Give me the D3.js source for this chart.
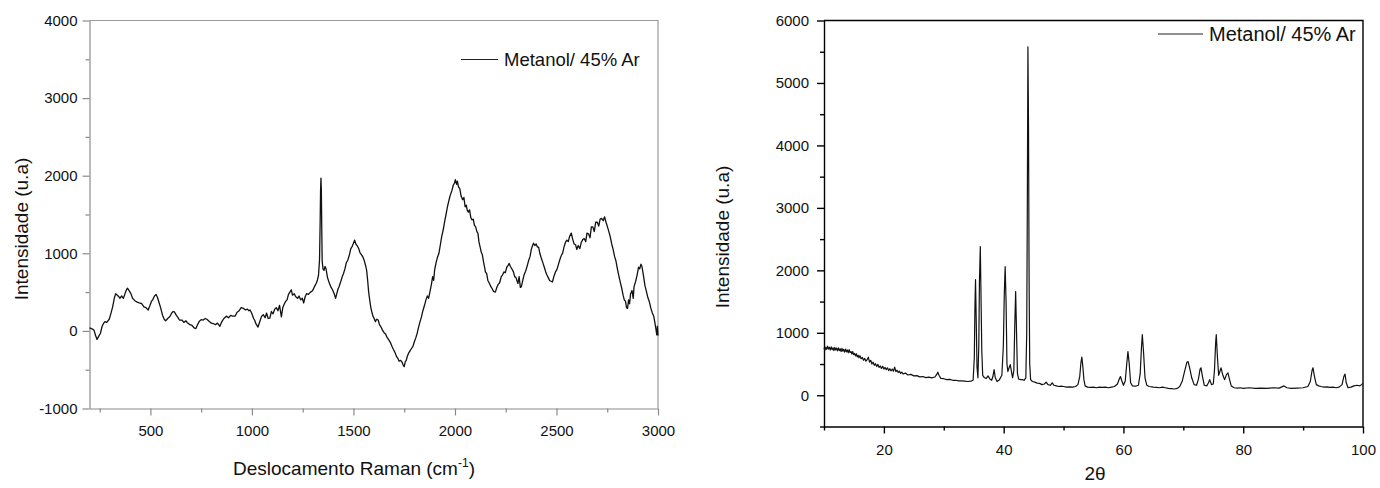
<!DOCTYPE html>
<html>
<head>
<meta charset="utf-8">
<script src="https://cdn.jsdelivr.net/npm/d3@7"></script>
<style>
  body { margin: 0; background: #fff; }
  text { font-family: "Liberation Sans", Arial, sans-serif; fill: #111; }
</style>
</head>
<body>
<svg id="chart" width="1380" height="488"></svg>
<script>
/* global d3 */

// Raman spectrum: [shift cm-1, intensity]
const ramanPoints = [
  [200, 40], [210, 30], [222, 10], [230, -60], [237, -110], [245, -70], [254, -30], [262, 60],
  [270, 100], [276, 120], [285, 110], [297, 150], [305, 220], [314, 310], [322, 420], [329, 480],
  [337, 460], [345, 440], [350, 420], [358, 450], [367, 420], [375, 480], [382, 530], [387, 550],
  [395, 520], [404, 480], [412, 420], [420, 400], [425, 385], [435, 370], [445, 360], [457, 350],
  [468, 310], [478, 300], [489, 270], [498, 330], [505, 380], [511, 400], [520, 450], [528, 470],
  [535, 430], [542, 370], [549, 310], [560, 200], [568, 150], [575, 130], [585, 160], [596, 185],
  [605, 230], [612, 250], [618, 245], [628, 200], [636, 170], [643, 140], [655, 140], [665, 110],
  [675, 130], [682, 105], [695, 80], [705, 70], [715, 40], [724, 30], [732, 80], [740, 120],
  [750, 145], [760, 140], [770, 160], [778, 150], [790, 120], [800, 100], [810, 95], [820, 80],
  [830, 100], [842, 60], [852, 120], [862, 160], [874, 190], [885, 170], [895, 200], [905, 190],
  [917, 190], [927, 240], [937, 260], [947, 300], [959, 290], [968, 270], [978, 280], [985, 260],
  [991, 270], [1000, 220], [1008, 160], [1013, 140], [1020, 90], [1030, 50], [1040, 130], [1048, 190],
  [1056, 210], [1065, 170], [1072, 230], [1080, 160], [1088, 165], [1096, 250], [1104, 220], [1112, 280],
  [1120, 300], [1128, 260], [1136, 330], [1145, 180], [1152, 300], [1160, 350], [1166, 380], [1173, 400],
  [1180, 470], [1187, 500], [1194, 530], [1200, 460], [1208, 480], [1216, 440], [1225, 420], [1232, 450],
  [1240, 400], [1248, 420], [1255, 360], [1262, 440], [1269, 480], [1278, 470], [1288, 500], [1295, 510],
  [1301, 530], [1310, 580], [1318, 620], [1323, 660], [1328, 720], [1333, 920], [1336, 1400], [1338, 1800],
  [1340, 1970], [1342, 1800], [1344, 1300], [1346, 900], [1350, 800], [1355, 780], [1360, 830], [1365, 800],
  [1372, 690], [1378, 640], [1382, 610], [1390, 560], [1397, 530], [1405, 480], [1412, 420], [1418, 480],
  [1424, 540], [1429, 570], [1438, 640], [1445, 700], [1451, 740], [1458, 800], [1465, 880], [1472, 910],
  [1480, 980], [1487, 1060], [1494, 1090], [1500, 1130], [1506, 1170], [1512, 1120], [1518, 1100], [1526, 1060],
  [1532, 1010], [1540, 980], [1547, 950], [1554, 900], [1560, 840], [1565, 780], [1570, 650], [1575, 500],
  [1580, 400], [1585, 310], [1590, 250], [1596, 190], [1602, 160], [1608, 120], [1614, 150], [1622, 140],
  [1628, 80], [1636, 50], [1643, 10], [1650, -20], [1658, -40], [1665, -80], [1675, -120], [1682, -150],
  [1690, -200], [1697, -240], [1705, -280], [1712, -330], [1718, -350], [1725, -390], [1732, -380], [1739, -400],
  [1745, -440], [1750, -460], [1755, -400], [1760, -380], [1765, -330], [1771, -290], [1778, -260], [1785, -230],
  [1793, -200], [1800, -140], [1807, -90], [1814, -30], [1820, 40], [1828, 120], [1835, 180], [1842, 260],
  [1850, 330], [1857, 400], [1864, 450], [1870, 420], [1878, 520], [1884, 600], [1890, 700], [1895, 650],
  [1900, 790], [1907, 880], [1914, 950], [1921, 1000], [1928, 1110], [1935, 1220], [1942, 1300], [1950, 1420],
  [1956, 1500], [1963, 1600], [1970, 1680], [1977, 1750], [1985, 1810], [1992, 1880], [1997, 1900], [2002, 1950],
  [2008, 1890], [2012, 1930], [2017, 1860], [2024, 1830], [2030, 1740], [2038, 1690], [2044, 1720], [2050, 1600],
  [2056, 1620], [2060, 1560], [2066, 1530], [2072, 1560], [2078, 1460], [2084, 1430], [2090, 1440], [2096, 1360],
  [2102, 1340], [2108, 1280], [2113, 1260], [2118, 1150], [2124, 1080], [2130, 1010], [2135, 980], [2140, 900],
  [2146, 820], [2150, 760], [2156, 740], [2162, 650], [2168, 620], [2177, 570], [2184, 540], [2190, 510],
  [2199, 500], [2206, 560], [2213, 600], [2220, 620], [2228, 700], [2234, 720], [2241, 760], [2248, 750],
  [2255, 820], [2261, 840], [2267, 870], [2273, 830], [2280, 800], [2288, 760], [2294, 700], [2300, 690],
  [2305, 650], [2310, 610], [2316, 700], [2322, 560], [2327, 570], [2334, 650], [2340, 720], [2348, 770],
  [2355, 830], [2362, 900], [2370, 960], [2376, 1050], [2382, 1100], [2387, 1130], [2393, 1100], [2400, 1120],
  [2406, 1080], [2412, 1080], [2418, 1000], [2425, 940], [2434, 870], [2440, 820], [2447, 760], [2453, 720],
  [2459, 690], [2466, 650], [2473, 640], [2480, 630], [2487, 700], [2495, 760], [2502, 790], [2510, 860],
  [2518, 930], [2525, 980], [2530, 1000], [2537, 1080], [2544, 1140], [2551, 1170], [2558, 1150], [2565, 1220],
  [2573, 1260], [2580, 1180], [2587, 1120], [2594, 1110], [2600, 1050], [2607, 1100], [2615, 1060], [2622, 1140],
  [2630, 1180], [2637, 1190], [2644, 1150], [2650, 1260], [2658, 1250], [2665, 1200], [2672, 1340], [2679, 1340],
  [2686, 1280], [2693, 1400], [2701, 1400], [2708, 1350], [2715, 1440], [2722, 1450], [2730, 1420], [2737, 1470],
  [2744, 1400], [2750, 1350], [2758, 1280], [2765, 1210], [2772, 1120], [2779, 1050], [2786, 960], [2793, 900],
  [2800, 800], [2808, 700], [2815, 620], [2823, 530], [2828, 460], [2834, 400], [2840, 380], [2845, 300],
  [2850, 290], [2855, 400], [2860, 350], [2865, 480], [2872, 520], [2878, 420], [2882, 570], [2890, 640],
  [2897, 720], [2904, 820], [2910, 800], [2916, 860], [2921, 830], [2928, 720], [2936, 580], [2942, 520],
  [2950, 430], [2957, 380], [2964, 300], [2972, 230], [2979, 190], [2985, 100], [2990, 20], [2994, -50],
  [2997, 60], [3000, -60]
];

// XRD pattern: [2theta, intensity]
const xrdPoints = [
  [10.0, 760], [10.15, 720], [10.3, 770], [10.45, 735], [10.6, 785], [10.75, 740], [10.9, 770], [11.05, 725],
  [11.2, 775], [11.35, 730], [11.5, 760], [11.65, 715], [11.8, 765], [11.95, 725], [12.1, 755], [12.25, 710],
  [12.4, 760], [12.55, 715], [12.7, 745], [12.85, 700], [13.0, 750], [13.15, 705], [13.3, 735], [13.45, 690],
  [13.6, 740], [13.75, 695], [13.9, 725], [14.05, 680], [14.2, 730], [14.35, 685], [14.5, 700], [14.65, 660],
  [14.8, 700], [14.95, 650], [15.1, 670], [15.25, 630], [15.4, 665], [15.55, 615], [15.7, 640], [15.85, 600],
  [16.0, 635], [16.2, 585], [16.4, 605], [16.6, 560], [16.8, 590], [17.0, 545], [17.2, 570], [17.4, 610],
  [17.6, 530], [17.8, 560], [18.0, 500], [18.2, 530], [18.4, 480], [18.6, 505], [18.8, 460], [19.0, 495],
  [19.2, 445], [19.4, 470], [19.6, 430], [19.8, 465], [20.0, 420], [20.2, 445], [20.4, 410], [20.6, 440],
  [20.8, 395], [21.0, 425], [21.2, 390], [21.4, 420], [21.6, 385], [21.8, 450], [22.0, 380], [22.2, 400],
  [22.4, 365], [22.6, 385], [22.8, 350], [23.0, 370], [23.2, 340], [23.6, 355], [24.0, 325], [24.5, 335],
  [25.0, 310], [25.5, 315], [26.0, 295], [26.5, 300], [27.0, 283], [27.5, 290], [28.0, 278], [28.5, 292],
  [28.8, 330], [29.0, 370], [29.2, 320], [29.5, 270], [30.0, 265],
  [30.5, 250], [31.0, 255], [31.5, 240], [32.0, 240], [32.5, 230], [33.0, 230], [33.5, 225], [34.0, 220],
  [34.5, 225], [34.9, 240], [35.1, 600], [35.2, 1400], [35.3, 1850], [35.4, 1300], [35.55, 450], [35.7, 280],
  [35.85, 800], [35.95, 1800], [36.1, 2380], [36.2, 1700], [36.35, 700], [36.5, 320], [36.8, 280], [37.1, 270],
  [37.4, 310], [37.7, 260], [38.0, 240], [38.2, 300], [38.4, 410], [38.6, 280], [38.9, 220], [39.3, 250],
  [39.7, 320], [39.95, 800], [40.1, 1600], [40.25, 2060], [40.4, 1500], [40.55, 500], [40.7, 380], [40.9, 440],
  [41.1, 490], [41.3, 380], [41.5, 280], [41.7, 400], [41.85, 1100], [42.0, 1660], [42.15, 1000], [42.3, 350],
  [42.5, 260], [42.8, 250], [43.1, 250], [43.4, 240], [43.7, 280], [43.85, 1000], [43.95, 3000], [44.05, 5580],
  [44.15, 4300], [44.25, 1800], [44.35, 500], [44.5, 250], [44.8, 220], [45.2, 210], [45.6, 195], [46.0, 190],
  [46.4, 170], [46.8, 180], [47.1, 210], [47.4, 170], [47.8, 160], [48.1, 200], [48.4, 160], [48.8, 150],
  [49.2, 140], [49.6, 145], [50.0, 140], [50.5, 130], [51.0, 135], [51.5, 130], [52.0, 140], [52.4, 170],
  [52.7, 300], [52.9, 520], [53.05, 610], [53.2, 480], [53.4, 250], [53.6, 150], [54.0, 130], [54.5, 125],
  [55.0, 130], [55.5, 120], [56.0, 130], [56.5, 125], [57.0, 130], [57.5, 120], [58.0, 130], [58.5, 140],
  [59.0, 180], [59.3, 260], [59.5, 300], [59.7, 240], [60.0, 160], [60.3, 230], [60.55, 500], [60.75, 700],
  [60.95, 520], [61.2, 200], [61.5, 150], [62.0, 145], [62.5, 160], [62.8, 350], [63.0, 750], [63.15, 970],
  [63.35, 700], [63.6, 280], [63.9, 160], [64.3, 140], [65.0, 130], [65.5, 125], [66.0, 120], [66.5, 130],
  [67.0, 120], [67.5, 110], [68.0, 105], [68.5, 100], [69.0, 110], [69.4, 140], [69.8, 220], [70.2, 380],
  [70.6, 530], [70.8, 540], [71.1, 420], [71.4, 280], [71.8, 170], [72.2, 160], [72.5, 250], [72.8, 420],
  [72.95, 440], [73.2, 300], [73.5, 160], [73.9, 150], [74.2, 200], [74.4, 250], [74.7, 170], [75.0, 180],
  [75.2, 400], [75.4, 850], [75.5, 970], [75.7, 600], [75.9, 320], [76.1, 380], [76.3, 440], [76.6, 320],
  [76.9, 250], [77.2, 330], [77.45, 360], [77.7, 260], [78.0, 150], [78.5, 120], [79.0, 115], [79.5, 120],
  [80.0, 110], [81.0, 120], [82.0, 110], [83.0, 115], [84.0, 110], [85.0, 120], [86.0, 115], [86.8, 150],
  [87.3, 120], [88.0, 110], [89.0, 115], [90.0, 120], [90.8, 140], [91.2, 220], [91.5, 400], [91.65, 440],
  [91.9, 300], [92.2, 170], [92.6, 150], [93.0, 140], [93.5, 130], [94.0, 135], [94.5, 125], [95.0, 130],
  [95.5, 120], [96.0, 130], [96.5, 170], [96.8, 300], [97.0, 340], [97.2, 200], [97.5, 120], [98.0, 130],
  [98.5, 150], [99.0, 160], [99.5, 150], [100.0, 190]
];

const seriesLabel = 'Metanol/ 45% Ar';

const ramanMajorX = [500, 1000, 1500, 2000, 2500, 3000];
const ramanMinorX = [250, 750, 1250, 1750, 2250, 2750];
const ramanMajorY = [-1000, 0, 1000, 2000, 3000, 4000];
const ramanMinorY = [-500, 500, 1500, 2500, 3500];

const xrdMajorX = [20, 40, 60, 80, 100];
const xrdMinorX = [10, 30, 50, 70, 90];
const xrdMajorY = [0, 1000, 2000, 3000, 4000, 5000, 6000];
const xrdMinorY = [-500, 500, 1500, 2500, 3500, 4500, 5500];

const svg = d3.select('#chart');

// plain hyphen for negatives, like the original plot
const tickText = (d) => String(d);

function drawPanel(cfg) {
  const xScale = d3.scaleLinear().domain(cfg.xDomain).range(cfg.xRange);
  const yScale = d3.scaleLinear().domain(cfg.yDomain).range(cfg.yRange);
  const [x0, x1] = cfg.xRange;
  const [y0, y1] = cfg.yRange;

  const g = svg.append('g').attr('class', cfg.name);

  // frame (top + right)
  g.append('path')
    .attr('d', `M${x0},${y1}H${x1}V${y0}`)
    .attr('fill', 'none')
    .attr('stroke', cfg.frameColor)
    .attr('stroke-width', cfg.axisWidth);

  const xAxis = g.append('g')
    .attr('transform', `translate(0,${y0})`)
    .call(d3.axisBottom(xScale).tickValues(cfg.majorX).tickSize(7).tickSizeOuter(0)
      .tickPadding(cfg.xPad).tickFormat(tickText));

  g.append('g')
    .attr('transform', `translate(0,${y0})`)
    .call(d3.axisBottom(xScale).tickValues(cfg.minorX).tickSize(4).tickSizeOuter(0).tickFormat(''))
    .select('.domain').remove();

  const yAxis = g.append('g')
    .attr('transform', `translate(${x0},0)`)
    .call(d3.axisLeft(yScale).tickValues(cfg.majorY).tickSize(7).tickSizeOuter(0)
      .tickPadding(cfg.yPad).tickFormat(tickText));

  g.append('g')
    .attr('transform', `translate(${x0},0)`)
    .call(d3.axisLeft(yScale).tickValues(cfg.minorY).tickSize(4).tickSizeOuter(0).tickFormat(''))
    .select('.domain').remove();

  g.selectAll('.domain, .tick line')
    .attr('stroke', cfg.axisColor)
    .attr('stroke-width', cfg.axisWidth);

  [xAxis, yAxis].forEach((ax) => {
    ax.selectAll('.tick text')
      .style('font-size', '15px')
      .style('font-family', '"Liberation Sans", Arial, sans-serif')
      .attr('fill', '#111');
  });

  const line = d3.line()
    .x((d) => xScale(d[0]))
    .y((d) => yScale(d[1]));

  g.append('path')
    .datum(cfg.points)
    .attr('d', line)
    .attr('fill', 'none')
    .attr('stroke', '#111')
    .attr('stroke-width', cfg.lineWidth)
    .attr('stroke-linejoin', 'round');

  // legend
  g.append('line')
    .attr('x1', cfg.legend.x).attr('x2', cfg.legend.x + cfg.legend.len)
    .attr('y1', cfg.legend.y).attr('y2', cfg.legend.y)
    .attr('stroke', '#222')
    .attr('stroke-width', 1);

  g.append('text')
    .attr('x', cfg.legend.x + cfg.legend.len + 6)
    .attr('y', cfg.legend.y + cfg.legend.size * 0.36)
    .style('font-size', `${cfg.legend.size}px`)
    .text(seriesLabel);

  // y label
  g.append('text')
    .attr('transform', `translate(${cfg.yLabelPos[0]},${cfg.yLabelPos[1]}) rotate(-90)`)
    .attr('text-anchor', 'middle')
    .style('font-size', '19px')
    .text('Intensidade (u.a)');

  return g;
}

const ramanPanel = drawPanel({
  name: 'raman',
  points: ramanPoints,
  xDomain: [200, 3000], xRange: [89.5, 658],
  yDomain: [-1000, 4000], yRange: [408.5, 20.5],
  majorX: ramanMajorX, minorX: ramanMinorX,
  majorY: ramanMajorY, minorY: ramanMinorY,
  axisColor: '#8a8a8a', frameColor: '#9a9a9a', axisWidth: 1.2,
  lineWidth: 1.3, xPad: 10, yPad: 5,
  legend: { x: 461, y: 59.5, len: 37, size: 18.5 },
  yLabelPos: [28, 229]
});

ramanPanel.append('text')
  .attr('x', 354)
  .attr('y', 475)
  .attr('text-anchor', 'middle')
  .style('font-size', '19px')
  .text('Deslocamento Raman (cm')
  .append('tspan')
  .attr('dy', -8)
  .style('font-size', '12px')
  .text('-1')
  .append('tspan')
  .attr('dy', 8)
  .style('font-size', '19px')
  .text(')');

const xrdPanel = drawPanel({
  name: 'xrd',
  points: xrdPoints,
  xDomain: [10, 100], xRange: [824, 1363],
  yDomain: [-500, 6000], yRange: [426.5, 20.5],
  majorX: xrdMajorX, minorX: xrdMinorX,
  majorY: xrdMajorY, minorY: xrdMinorY,
  axisColor: '#000', frameColor: '#000', axisWidth: 1.4,
  lineWidth: 1.2, xPad: 11, yPad: 8,
  legend: { x: 1158, y: 34, len: 45, size: 20 },
  yLabelPos: [729, 237]
});

xrdPanel.append('text')
  .attr('x', 1095)
  .attr('y', 480)
  .attr('text-anchor', 'middle')
  .style('font-size', '19px')
  .text('2θ');
</script>
</body>
</html>
